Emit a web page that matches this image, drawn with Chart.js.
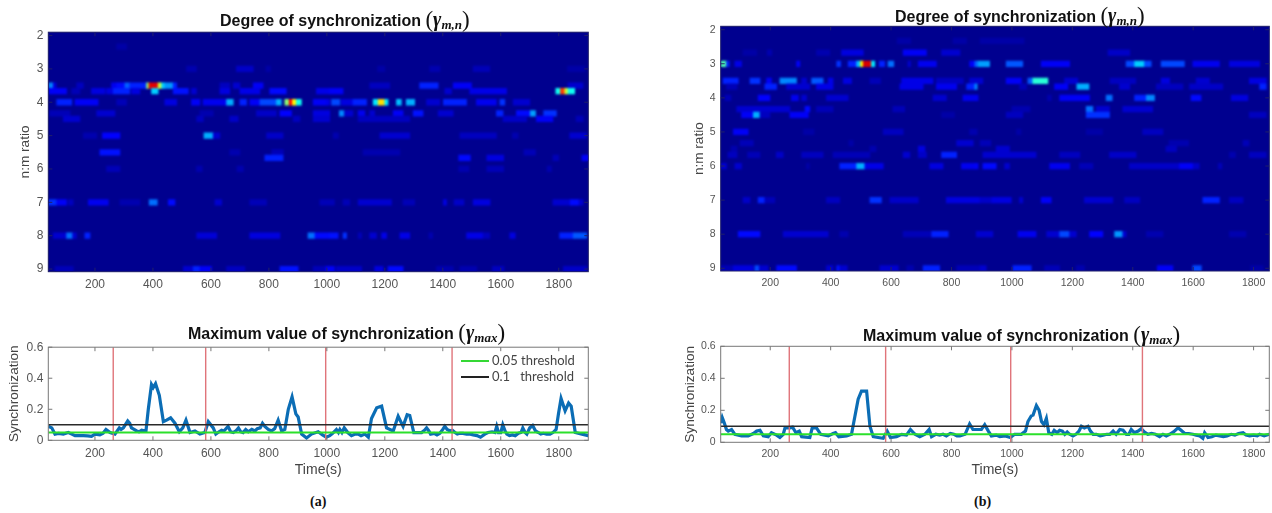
<!DOCTYPE html>
<html>
<head>
<meta charset="utf-8">
<title>Degree of synchronization</title>
<script src="https://cdn.jsdelivr.net/npm/chart.js@4"></script>
<style>
  html, body { margin: 0; padding: 0; background: #fff; overflow: hidden; }
  .box { position: absolute; filter: blur(0.45px); }
  .titulo { position: absolute; white-space: nowrap; font: bold 16px "Liberation Sans", Arial, sans-serif; color: #111; line-height: 20px; }
  .titulo .par { font: 23px "Liberation Serif", serif; vertical-align: -1px; }
  .titulo i { font: italic bold 20px "Liberation Serif", serif; }
  .titulo sub { font: italic bold 13px "Liberation Serif", serif; vertical-align: -3px; }
  .painel { position: absolute; font: bold 14px "Liberation Serif", serif; color: #111; }
  .leg { position: absolute; left: 461px; white-space: nowrap; font: 13px Lato, sans-serif; color: #444; line-height: 16px; }
  .leg span { display: inline-block; width: 28px; height: 2px; margin-right: 3px; vertical-align: 3px; }
</style>
</head>
<body>
<div class="box" style="left:0;top:20px;width:600px;height:280px"><canvas id="heatA"></canvas></div>
<div class="box" style="left:0;top:335px;width:600px;height:150px"><canvas id="lineA"></canvas></div>
<div class="box" style="left:660px;top:15px;width:612px;height:285px"><canvas id="heatB"></canvas></div>
<div class="box" style="left:660px;top:335px;width:612px;height:150px"><canvas id="lineB"></canvas></div>

<div class="titulo" style="left:220px;top:7px">Degree of synchronization <span class="par">(</span><i>γ</i><sub>m,n</sub><span class="par">)</span></div>
<div class="titulo" style="left:895px;top:3px">Degree of synchronization <span class="par">(</span><i>γ</i><sub>m,n</sub><span class="par">)</span></div>
<div class="titulo" style="left:188px;top:320px">Maximum value of synchronization <span class="par">(</span><i>γ</i><sub>max</sub><span class="par">)</span></div>
<div class="titulo" style="left:863px;top:322px">Maximum value of synchronization <span class="par">(</span><i>γ</i><sub>max</sub><span class="par">)</span></div>

<div class="leg" style="top:352px"><span style="background:#35d835"></span>0.05 threshold</div>
<div class="leg" style="top:368px"><span style="background:#222"></span>0.1&nbsp;&nbsp; threshold</div>

<div class="painel" style="left:310px;top:494px">(a)</div>
<div class="painel" style="left:974px;top:494px">(b)</div>

<script>
// Eixos
const ratioTicks = [2, 3, 4, 5, 6, 7, 8, 9];
const timeTicks = [200, 400, 600, 800, 1000, 1200, 1400, 1600, 1800];
const syncTicks = [0, 0.2, 0.4, 0.6];

// Limiares e marcas vermelhas (tempo em s)
const threshold05 = 0.05;
const threshold10 = 0.1;
const boundaries = [263, 582, 996, 1432];

// Painel (a): cada linha de ratiosA tem trechos [t inicio, t fim, valor]
const ratiosA = [2.33, 3, 3.5, 3.67, 4, 4.33, 4.5, 5, 5.5, 5.67, 6, 7, 8, 9];
const runsA = [
  [[275,309,.05]],
  [[516,550,.06],[688,746,.09],[790,806,.05],[1175,1200,.05],[1355,1390,.06],[1505,1562,.07],[1830,1890,.05]],
  [[42,56,.33],[56,66,.12],[137,160,.08],[257,275,.14],[275,303,.17],[303,320,.28],[320,378,.2],[378,386,.6],[386,418,.92],[418,430,.65],[430,441,.42],[441,470,.35],[470,482,.2],[631,665,.08],[677,700,.1],[746,780,.15],[1148,1217,.08],[1320,1384,.2],[1436,1499,.15],[1832,1884,.1]],
  [[42,102,.15],[120,148,.07],[188,235,.12],[240,263,.12],[263,320,.2],[326,355,.12],[395,418,.42],[470,522,.18],[533,550,.1],[631,665,.12],[700,769,.13],[803,860,.17],[964,1010,.13],[1010,1056,.15],[1407,1430,.1],[1493,1620,.13],[1790,1806,.5],[1806,1821,.85],[1821,1832,.65],[1832,1855,.5]],
  [[68,120,.2],[131,211,.15],[275,309,.07],[441,482,.12],[533,562,.15],[573,654,.14],[654,677,.38],[700,723,.2],[734,769,.15],[769,826,.25],[826,843,.38],[855,870,.6],[870,881,.9],[881,895,.7],[895,912,.5],[953,999,.15],[999,1010,.13],[1016,1045,.25],[1050,1090,.12],[1090,1137,.2],[1160,1177,.45],[1177,1200,.72],[1200,1211,.45],[1240,1257,.4],[1274,1303,.38],[1344,1390,.1],[1402,1482,.2],[1516,1585,.14],[1597,1614,.22],[1643,1700,.1]],
  [[44,114,.07],[206,269,.1],[562,608,.06],[757,826,.09],[838,878,.16],[953,1010,.12],[1043,1059,.33],[1062,1090,.1],[1108,1131,.14],[1148,1165,.1],[1229,1263,.15],[1298,1332,.18],[1384,1436,.1],[1585,1608,.2],[1654,1700,.17],[1702,1720,.36],[1748,1792,.22]],
  [[91,148,.1],[551,574,.08],[665,694,.09],[884,907,.08],[953,1010,.1],[1108,1286,.08],[1608,1689,.09],[1723,1780,.15],[1860,1885,.07]],
  [[160,206,.06],[226,286,.16],[576,608,.38],[608,631,.1],[792,849,.09],[1022,1040,.06],[1183,1286,.1],[1459,1585,.08],[1640,1660,.06],[1838,1895,.1]],
  [[217,286,.18],[665,700,.06],[810,850,.07],[1125,1252,.06],[1680,1720,.07]],
  [[786,849,.2],[1455,1495,.17],[1552,1610,.12],[1780,1800,.07],[1880,1902,.15]],
  [[240,286,.07],[550,570,.06],[690,712,.06],[1455,1490,.06],[1552,1610,.07],[1760,1775,.06]],
  [[39,68,.22],[68,102,.15],[108,125,.08],[177,246,.14],[286,355,.06],[387,415,.3],[453,476,.17],[614,637,.1],[734,792,.07],[976,1026,.07],[1056,1079,.07],[1108,1223,.1],[1263,1303,.07],[1402,1413,.12],[1439,1473,.09],[1505,1563,.12],[1780,1840,.1],[1840,1870,.17],[1870,1884,.1]],
  [[56,102,.1],[102,123,.3],[123,136,.1],[165,183,.2],[551,620,.11],[734,838,.12],[935,959,.3],[959,1010,.17],[1010,1039,.18],[1056,1068,.22],[1108,1120,.07],[1148,1171,.1],[1189,1206,.13],[1252,1286,.13],[1352,1365,.06],[1482,1539,.13],[1539,1562,.08],[1631,1650,.12],[1803,1850,.2],[1850,1896,.27]],
  [[62,125,.07],[505,539,.1],[539,562,.2],[562,602,.15],[654,717,.08],[838,901,.18],[953,997,.07],[997,1026,.15],[1032,1120,.09],[1165,1194,.12],[1211,1263,.17],[1378,1436,.06],[1459,1517,.06],[1571,1611,.08],[1816,1896,.09]]
];

// Painel (b)
const ratiosB = [2.33, 2.67, 3, 3.5, 3.67, 4, 4.33, 4.5, 5, 5.33, 5.5, 5.67, 6, 7, 8, 9];
const runsB = [
  [[620,665,.05],[805,850,.05],[895,1040,.05]],
  [[110,155,.05],[190,205,.06],[353,397,.06],[436,508,.12],[640,717,.15],[767,828,.1],[1318,1390,.09]],
  [[39,55,.55],[55,64,.2],[83,105,.13],[287,298,.15],[420,433,.22],[458,486,.2],[486,499,.4],[499,508,.7],[508,535,.93],[535,546,.45],[561,579,.2],[590,609,.3],[656,664,.1],[690,750,.14],[860,877,.15],[877,888,.28],[888,926,.36],[981,1036,.27],[1097,1191,.15],[1378,1406,.25],[1406,1439,.42],[1439,1461,.25],[1494,1571,.25],[1599,1687,.14],[1720,1820,.12]],
  [[44,94,.2],[133,166,.22],[188,204,.15],[232,287,.33],[304,320,.1],[337,375,.27],[392,408,.13],[442,469,.12],[530,565,.07],[635,739,.13],[750,839,.08],[860,904,.1],[981,1031,.15],[1053,1069,.27],[1069,1119,.52],[1174,1218,.1],[1325,1410,.08],[1494,1522,.12],[1610,1654,.1],[1786,1842,.12]],
  [[55,90,.07],[182,221,.2],[254,331,.1],[353,408,.13],[629,706,.13],[750,817,.14],[850,877,.2],[877,885,.33],[1025,1048,.07],[1141,1185,.15],[1215,1255,.38],[1356,1390,.1],[1478,1566,.08],[1588,1698,.09],[1820,1842,.2]],
  [[50,70,.07],[160,199,.16],[270,293,.14],[304,320,.1],[386,458,.1],[739,783,.1],[838,888,.14],[1118,1130,.06],[1158,1257,.15],[1312,1332,.3],[1406,1445,.2],[1445,1472,.33],[1593,1626,.17],[1726,1781,.12]],
  [[89,265,.1],[315,331,.17],[353,408,.07],[606,645,.07],[1000,1060,.06],[1246,1268,.3],[1279,1323,.1],[1367,1466,.1]],
  [[105,144,.15],[144,166,.38],[166,199,.08],[265,326,.15],[767,810,.05],[981,1036,.08],[1246,1323,.22],[1786,1842,.08]],
  [[78,127,.15],[310,345,.05],[574,640,.08],[860,885,.06],[1015,1030,.05],[1246,1300,.05],[1433,1500,.08]],
  [[100,144,.07],[460,475,.05],[817,872,.1],[895,930,.07],[1520,1585,.06],[1765,1785,.07]],
  [[70,90,.06],[530,550,.06],[690,712,.12],[948,992,.1],[1510,1545,.08]],
  [[60,90,.08],[125,166,.07],[220,243,.09],[304,375,.08],[408,530,.07],[640,662,.1],[690,717,.09],[767,817,.2],[904,1080,.1],[1158,1225,.08],[1323,1411,.09],[1720,1740,.06],[1786,1842,.08]],
  [[39,55,.1],[83,105,.1],[320,330,.05],[430,486,.2],[486,513,.38],[513,574,.13],[728,772,.12],[833,877,.14],[877,888,.15],[904,948,.17],[976,992,.1],[1125,1191,.14],[1224,1268,.07],[1389,1555,.09],[1555,1600,.15],[1600,1620,.09],[1683,1695,.07]],
  [[110,133,.09],[160,182,.2],[182,215,.07],[386,430,.08],[530,568,.22],[596,690,.09],[783,894,.12],[894,935,.09],[934,998,.12],[1025,1036,.1],[1097,1130,.15],[1240,1334,.1],[1373,1423,.08],[1632,1687,.2],[1720,1765,.08]],
  [[94,166,.17],[243,392,.1],[430,458,.06],[640,730,.07],[734,789,.2],[882,937,.1],[1020,1080,.14],[1115,1158,.1],[1158,1191,.25],[1191,1213,.1],[1257,1301,.16],[1340,1367,.35],[1367,1378,.1],[1445,1500,.06],[1720,1775,.06]],
  [[39,78,.07],[78,144,.12],[149,164,.25],[164,193,.1],[221,287,.17],[386,408,.1],[420,430,.18],[430,455,.1],[563,624,.1],[652,674,.06],[706,761,.2],[817,895,.07],[895,915,.1],[1003,1064,.2],[1108,1158,.07],[1213,1240,.06],[1481,1533,.15],[1599,1627,.25],[1790,1832,.05]]
];

// Sinal de sincronizacao maxima, painel (a), em pares [tempo, valor]
const sinalA = [
  [39,.09],[51,.08],[62,.04],[74,.045],[91,.04],[108,.05],[120,.04],[131,.03],[145,.03],[160,.03],[175,.028],[188,.025],[200,.04],[217,.035],[228,.045],[238,.07],[252,.05],[269,.04],[284,.08],[290,.07],[298,.08],[313,.125],[320,.11],[326,.08],[335,.07],[344,.06],[352,.055],[361,.065],[376,.06],
  [384,.2],[395,.36],[401,.34],[409,.365],[422,.29],[436,.12],[447,.13],[461,.145],[476,.11],[491,.055],[503,.08],[514,.13],[528,.05],[545,.06],[562,.04],[579,.05],[591,.12],[608,.08],[617,.04],[628,.055],[637,.065],[645,.06],[659,.09],[668,.055],
  [677,.05],[686,.06],[695,.08],[703,.055],[711,.05],[720,.07],[729,.055],[741,.07],[752,.06],[760,.075],[770,.08],[778,.11],[786,.09],[798,.07],[809,.06],[820,.075],[832,.13],[844,.06],[855,.07],[867,.2],[880,.28],[893,.17],[901,.15],[913,.04],[930,.015],[947,.04],[970,.055],[985,.035],[998,.02],
  [1010,.03],[1020,.045],[1033,.07],[1040,.05],[1045,.07],[1052,.05],[1060,.08],[1072,.05],[1085,.03],[1098,.04],[1108,.04],[1118,.03],[1131,.04],[1143,.02],[1154,.14],[1172,.21],[1189,.22],[1206,.08],[1229,.06],[1246,.155],[1263,.09],[1277,.165],[1286,.16],[1300,.05],[1312,.05],[1327,.05],
  [1337,.065],[1344,.08],[1352,.06],[1358,.04],[1370,.045],[1380,.035],[1390,.045],[1400,.07],[1407,.09],[1415,.07],[1425,.06],[1433,.065],[1442,.05],[1450,.04],[1459,.045],[1470,.045],[1482,.04],[1495,.04],[1505,.035],[1518,.03],[1530,.02],[1545,.04],[1556,.05],[1570,.055],[1580,.05],[1586,.09],[1592,.05],[1600,.05],[1607,.1],[1615,.06],[1621,.04],[1630,.03],[1640,.035],[1650,.03],[1661,.045],[1670,.05],[1676,.08],[1684,.05],[1690,.04],[1700,.08],[1710,.095],[1720,.06],[1730,.05],[1738,.04],[1747,.045],[1758,.04],[1770,.04],[1780,.05],[1791,.07],
  [1799,.17],[1808,.27],[1822,.19],[1834,.24],[1843,.22],[1857,.05],[1880,.04],[1902,.03]
];

// Sinal de sincronizacao maxima, painel (b)
const sinalB = [
  [36,.12],[41,.155],[48,.12],[55,.08],[61,.07],[72,.08],[83,.05],[95,.045],[105,.04],[127,.04],[144,.055],[155,.07],[166,.075],[177,.04],[193,.035],[204,.06],[221,.045],[232,.03],[243,.05],[249,.09],[265,.09],[274,.095],[285,.06],[296,.07],[304,.035],[331,.03],[339,.09],[353,.09],[367,.05],[392,.04],[408,.055],[416,.06],[427,.035],[453,.04],[469,.05],
  [477,.13],[491,.27],[502,.32],[519,.32],[530,.1],[541,.035],[557,.03],[574,.025],[587,.07],[598,.03],[618,.035],[635,.05],[651,.045],[664,.08],[679,.05],[695,.035],[712,.05],[726,.08],[734,.035],[748,.05],[761,.045],[772,.05],[783,.04],[796,.055],[808,.05],[818,.04],[828,.04],[845,.05],
  [860,.115],[871,.08],[888,.08],[899,.08],[910,.11],[922,.07],[932,.04],[948,.045],[960,.035],[978,.04],[995,.03],[1009,.05],[1031,.05],[1045,.07],[1053,.13],[1064,.165],[1070,.17],[1081,.23],[1090,.2],[1098,.13],[1106,.11],[1114,.15],[1122,.06],[1132,.05],[1140,.075],[1150,.06],[1158,.075],[1167,.07],[1175,.05],[1183,.065],[1191,.05],
  [1202,.04],[1212,.05],[1222,.07],[1230,.1],[1240,.09],[1252,.1],[1260,.07],[1269,.05],[1280,.05],[1292,.04],[1302,.045],[1314,.05],[1324,.05],[1335,.07],[1345,.05],[1357,.08],[1368,.075],[1379,.05],[1387,.05],[1395,.08],[1405,.06],[1418,.07],[1428,.085],[1438,.065],[1450,.05],[1462,.055],[1475,.05],[1489,.035],[1500,.05],[1511,.04],[1522,.05],[1535,.065],[1550,.09],[1560,.075],[1572,.055],[1585,.055],[1599,.05],[1610,.045],[1622,.04],[1632,.025],[1638,.06],[1649,.03],[1662,.035],[1675,.045],[1688,.04],[1700,.035],[1712,.04],[1726,.05],[1738,.045],[1750,.055],[1765,.06],[1775,.045],[1787,.04],[1800,.045],[1812,.04],[1820,.05],[1835,.04],[1852,.05]
];

const fonte = '"Liberation Sans", Arial, sans-serif';

// Escala de cores jet, com a parte baixa um pouco comprimida
function jet(valor) {
  const v = valor < 0.5 ? valor * 0.78 : 0.39 + (valor - 0.5) * 1.22;
  const canal = c => Math.round(255 * Math.max(0, Math.min(1, 1.5 - Math.abs(4 * v - c))));
  return `rgb(${canal(3)},${canal(2)},${canal(1)})`;
}

// Fundo azul escuro do mapa e suavizacao das celulas
const fundoPlugin = {
  id: 'fundo',
  beforeDatasetsDraw(chart, args, opts) {
    const a = chart.chartArea;
    chart.ctx.fillStyle = opts.color;
    chart.ctx.fillRect(a.left, a.top, a.width, a.height);
  },
  afterDatasetsDraw(chart, args, opts) {
    const ctx = chart.ctx, a = chart.chartArea;
    ctx.save();
    ctx.beginPath();
    ctx.rect(a.left, a.top, a.width, a.height);
    ctx.clip();
    ctx.filter = `blur(${opts.blur}px)`;
    ctx.drawImage(chart.canvas, a.left, a.top, a.width, a.height, a.left, a.top, a.width, a.height);
    ctx.restore();
  }
};

// Moldura e marcas para dentro, como no MATLAB
const molduraPlugin = {
  id: 'moldura',
  afterDatasetsDraw(chart, args, opts) {
    const ctx = chart.ctx, a = chart.chartArea;
    ctx.save();
    ctx.strokeStyle = opts.color;
    ctx.lineWidth = 1;
    ctx.strokeRect(a.left, a.top, a.width, a.height);
    ctx.beginPath();
    chart.scales.x.ticks.forEach(t => {
      const x = chart.scales.x.getPixelForValue(t.value);
      ctx.moveTo(x, a.top); ctx.lineTo(x, a.top + 4);
      ctx.moveTo(x, a.bottom); ctx.lineTo(x, a.bottom - 4);
    });
    chart.scales.y.ticks.forEach(t => {
      const y = chart.scales.y.getPixelForValue(t.value);
      ctx.moveTo(a.left, y); ctx.lineTo(a.left + 4, y);
      ctx.moveTo(a.right, y); ctx.lineTo(a.right - 4, y);
    });
    ctx.stroke();
    ctx.restore();
  }
};

function escalaX(xMin, xMax, tick, altura, titulo, pad) {
  return {
    type: 'linear', min: xMin, max: xMax,
    grid: { display: false, drawTicks: false }, border: { display: false },
    afterBuildTicks: s => { s.ticks = timeTicks.map(value => ({ value })); },
    afterFit: s => { s.height = altura; },
    ticks: { font: { family: fonte, size: tick }, color: '#555', padding: 6, maxRotation: 0, autoSkip: false, callback: v => String(v) },
    title: { display: !!titulo, text: titulo, font: { family: fonte, size: 14 }, color: '#444', padding: { top: 0, bottom: pad } }
  };
}

function escalaY(opc, valores, largura, titulo, tituloX, tick) {
  return Object.assign({
    offset: false,
    grid: { display: false, drawTicks: false }, border: { display: false },
    afterBuildTicks: s => { s.ticks = valores.map(value => ({ value })); },
    afterFit: s => { s.width = largura; },
    ticks: { font: { family: fonte, size: tick }, color: '#555', padding: 5, autoSkip: false, callback: v => String(v) },
    title: { display: true, text: titulo, font: { family: fonte, size: 13.6 }, color: '#444', padding: { top: tituloX - 8.2, bottom: 0 } }
  }, opc);
}

function criaMapa(id, ratios, runs, cfg) {
  const dados = [];
  ratios.forEach((r, i) => runs[i].forEach(t => dados.push({ x: [t[0], t[1]], y: r, v: t[2] })));
  new Chart(document.getElementById(id), {
    type: 'bar',
    data: { datasets: [{ data: dados, barThickness: cfg.espessura, borderWidth: 0, backgroundColor: c => jet(c.raw.v) }] },
    options: {
      indexAxis: 'y', responsive: true, maintainAspectRatio: false, animation: false,
      layout: { padding: cfg.padding },
      plugins: { legend: { display: false }, tooltip: { enabled: false }, fundo: { color: '#00008f', blur: 1.2 }, moldura: { color: cfg.moldura } },
      scales: {
        x: escalaX(cfg.xMin, cfg.xMax, cfg.tick, cfg.altura, '', 0),
        y: escalaY({ type: 'linear', reverse: true, min: 1.9, max: 9.08 }, ratioTicks, cfg.largura, 'n:m ratio', cfg.tituloX, cfg.tickY)
      }
    },
    plugins: [fundoPlugin, molduraPlugin]
  });
}

function criaLinha(id, sinal, cfg) {
  const serie = sinal.map(p => ({ x: p[0], y: p[1] }));
  const horizontal = v => [{ x: cfg.xMin, y: v }, { x: cfg.xMax, y: v }];
  const conjuntos = [
    { data: horizontal(threshold05), borderColor: '#2be02b', borderWidth: 2, order: 1 },
    { data: horizontal(threshold10), borderColor: '#2a2a2a', borderWidth: 1.6, order: 1 },
    { data: serie, borderColor: '#0b6db5', borderWidth: 3.2, order: 3 }
  ];
  boundaries.forEach(b => conjuntos.push({ data: [{ x: b, y: 0 }, { x: b, y: 0.6 }], borderColor: '#e0747a', borderWidth: 1.4, order: 2 }));
  new Chart(document.getElementById(id), {
    type: 'line',
    data: { datasets: conjuntos.map(c => Object.assign({ pointRadius: 0, tension: 0, fill: false }, c)) },
    options: {
      responsive: true, maintainAspectRatio: false, animation: false,
      layout: { padding: cfg.padding },
      plugins: { legend: { display: false }, tooltip: { enabled: false }, moldura: { color: '#777' } },
      scales: {
        x: escalaX(cfg.xMin, cfg.xMax, cfg.tick, cfg.altura, 'Time(s)', 6.6),
        y: escalaY({ type: 'linear', min: 0, max: 0.6 }, syncTicks, cfg.largura, 'Synchronization', cfg.tituloX, cfg.tickY)
      }
    },
    plugins: [molduraPlugin]
  });
}

criaMapa('heatA', ratiosA, runsA, { xMin: 39, xMax: 1902, espessura: 5.6, moldura: '#20206a', padding: { top: 10.3, right: 11.7 }, altura: 28.3, largura: 48.3, tituloX: 25, tick: 12, tickY: 12 });
criaLinha('lineA', sinalA, { xMin: 39, xMax: 1902, padding: { top: 9.5, right: 11.7 }, altura: 44.7, largura: 48.3, tituloX: 14, tick: 12, tickY: 12 });
criaMapa('heatB', ratiosB, runsB, { xMin: 36, xMax: 1852, espessura: 5.6, moldura: '#20206a', padding: { top: 10, right: 2.7 }, altura: 29, largura: 60.7, tituloX: 39, tick: 10.5, tickY: 10.5 });
criaLinha('lineB', sinalB, { xMin: 36, xMax: 1852, padding: { top: 10, right: 2.7 }, altura: 42.7, largura: 60.7, tituloX: 30, tick: 10.5, tickY: 10.5 });
</script>
</body>
</html>
